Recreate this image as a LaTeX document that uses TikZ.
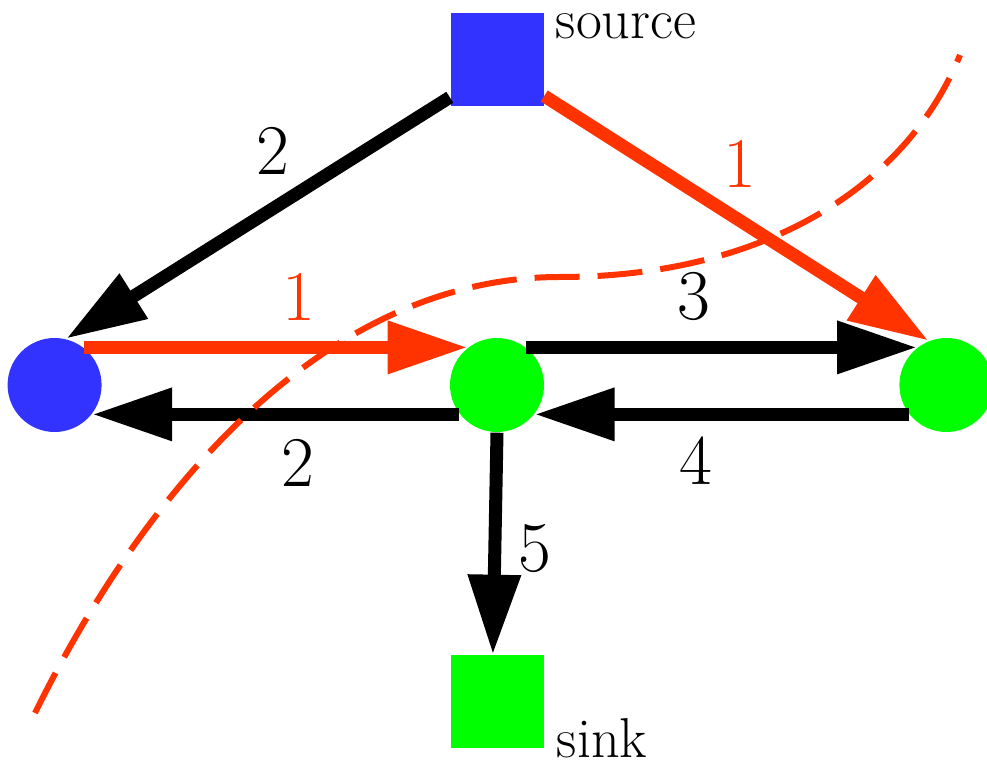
\documentclass[tikz,border=0pt]{standalone}
\usetikzlibrary{arrows.meta,positioning}

\definecolor{srcblue}{HTML}{3333FF}
\definecolor{snkgreen}{HTML}{00FF00}
\definecolor{cutred}{HTML}{FF3300}

\begin{document}
\begin{tikzpicture}[>={Triangle[length=0.8cm,width=0.5cm]}]
  \tikzstyle{term}=[rectangle,minimum size=0.93cm,inner sep=0pt]
  \tikzstyle{vert}=[circle,minimum size=0.94cm,inner sep=0pt,fill=snkgreen]
  \tikzstyle{flow}=[line width=0.13cm]
  \tikzstyle{wlabel}=[inner sep=0pt,font=\fontsize{20.3pt}{24pt}\selectfont]
  \tikzstyle{tlabel}=[inner sep=0pt,anchor=base west,font=\fontsize{16pt}{19pt}\selectfont]
  \useasboundingbox (0,0) rectangle (9.87,-7.60);

  \node[vert] (m) at (4.97,-3.85) {};
  \node[vert,fill=srcblue,left=3.47cm of m] (l) {};
  \node[vert,right=3.54cm of m] (r) {};
  \node[term,fill=srcblue,above=2.31cm of m] (s) {};
  \node[term,fill=snkgreen,below=2.22cm of m] (k) {};
  \node[tlabel] (slbl) at ([xshift=0.11cm,yshift=-0.27cm]s.north east) {source};
  \node[tlabel] (klbl) at ([xshift=0.12cm,yshift=-0.08cm]k.south east) {sink};

  \draw[flow,->] (s.219) -- node[wlabel,pos=0.46,above=0.27cm] {2} (l.76);
  \draw[flow,->,cutred] (s.-38) -- node[wlabel,pos=0.51,above=0.27cm] {1} (r.112);
  \draw[flow,->,cutred] (l.52) -- node[wlabel,pos=0.56,above=0.2cm] {1} (m.128);
  \draw[flow,->] (m.52) -- node[wlabel,pos=0.43,above=0.2cm] {3} (r.128);
  \draw[flow,->] (r.218) -- node[wlabel,pos=0.57,below=0.16cm] {4} (m.-38);
  \draw[flow,->] (m.218) -- node[wlabel,pos=0.44,below=0.18cm] {2} (l.-38);
  \draw[flow,->] (m.south) -- node[wlabel,pos=0.52,right=0.17cm] {5} (k.95);

  % the cut
  \draw[cutred,line width=0.06cm,dash pattern=on 0.45cm off 0.18cm]
    (0.35,-7.13) .. controls (1.5,-4.8) and (3.3,-2.77) .. (5.6,-2.77)
    .. controls (7.6,-2.77) and (9.05,-1.9) .. (9.6,-0.55);
\end{tikzpicture}
\end{document}
